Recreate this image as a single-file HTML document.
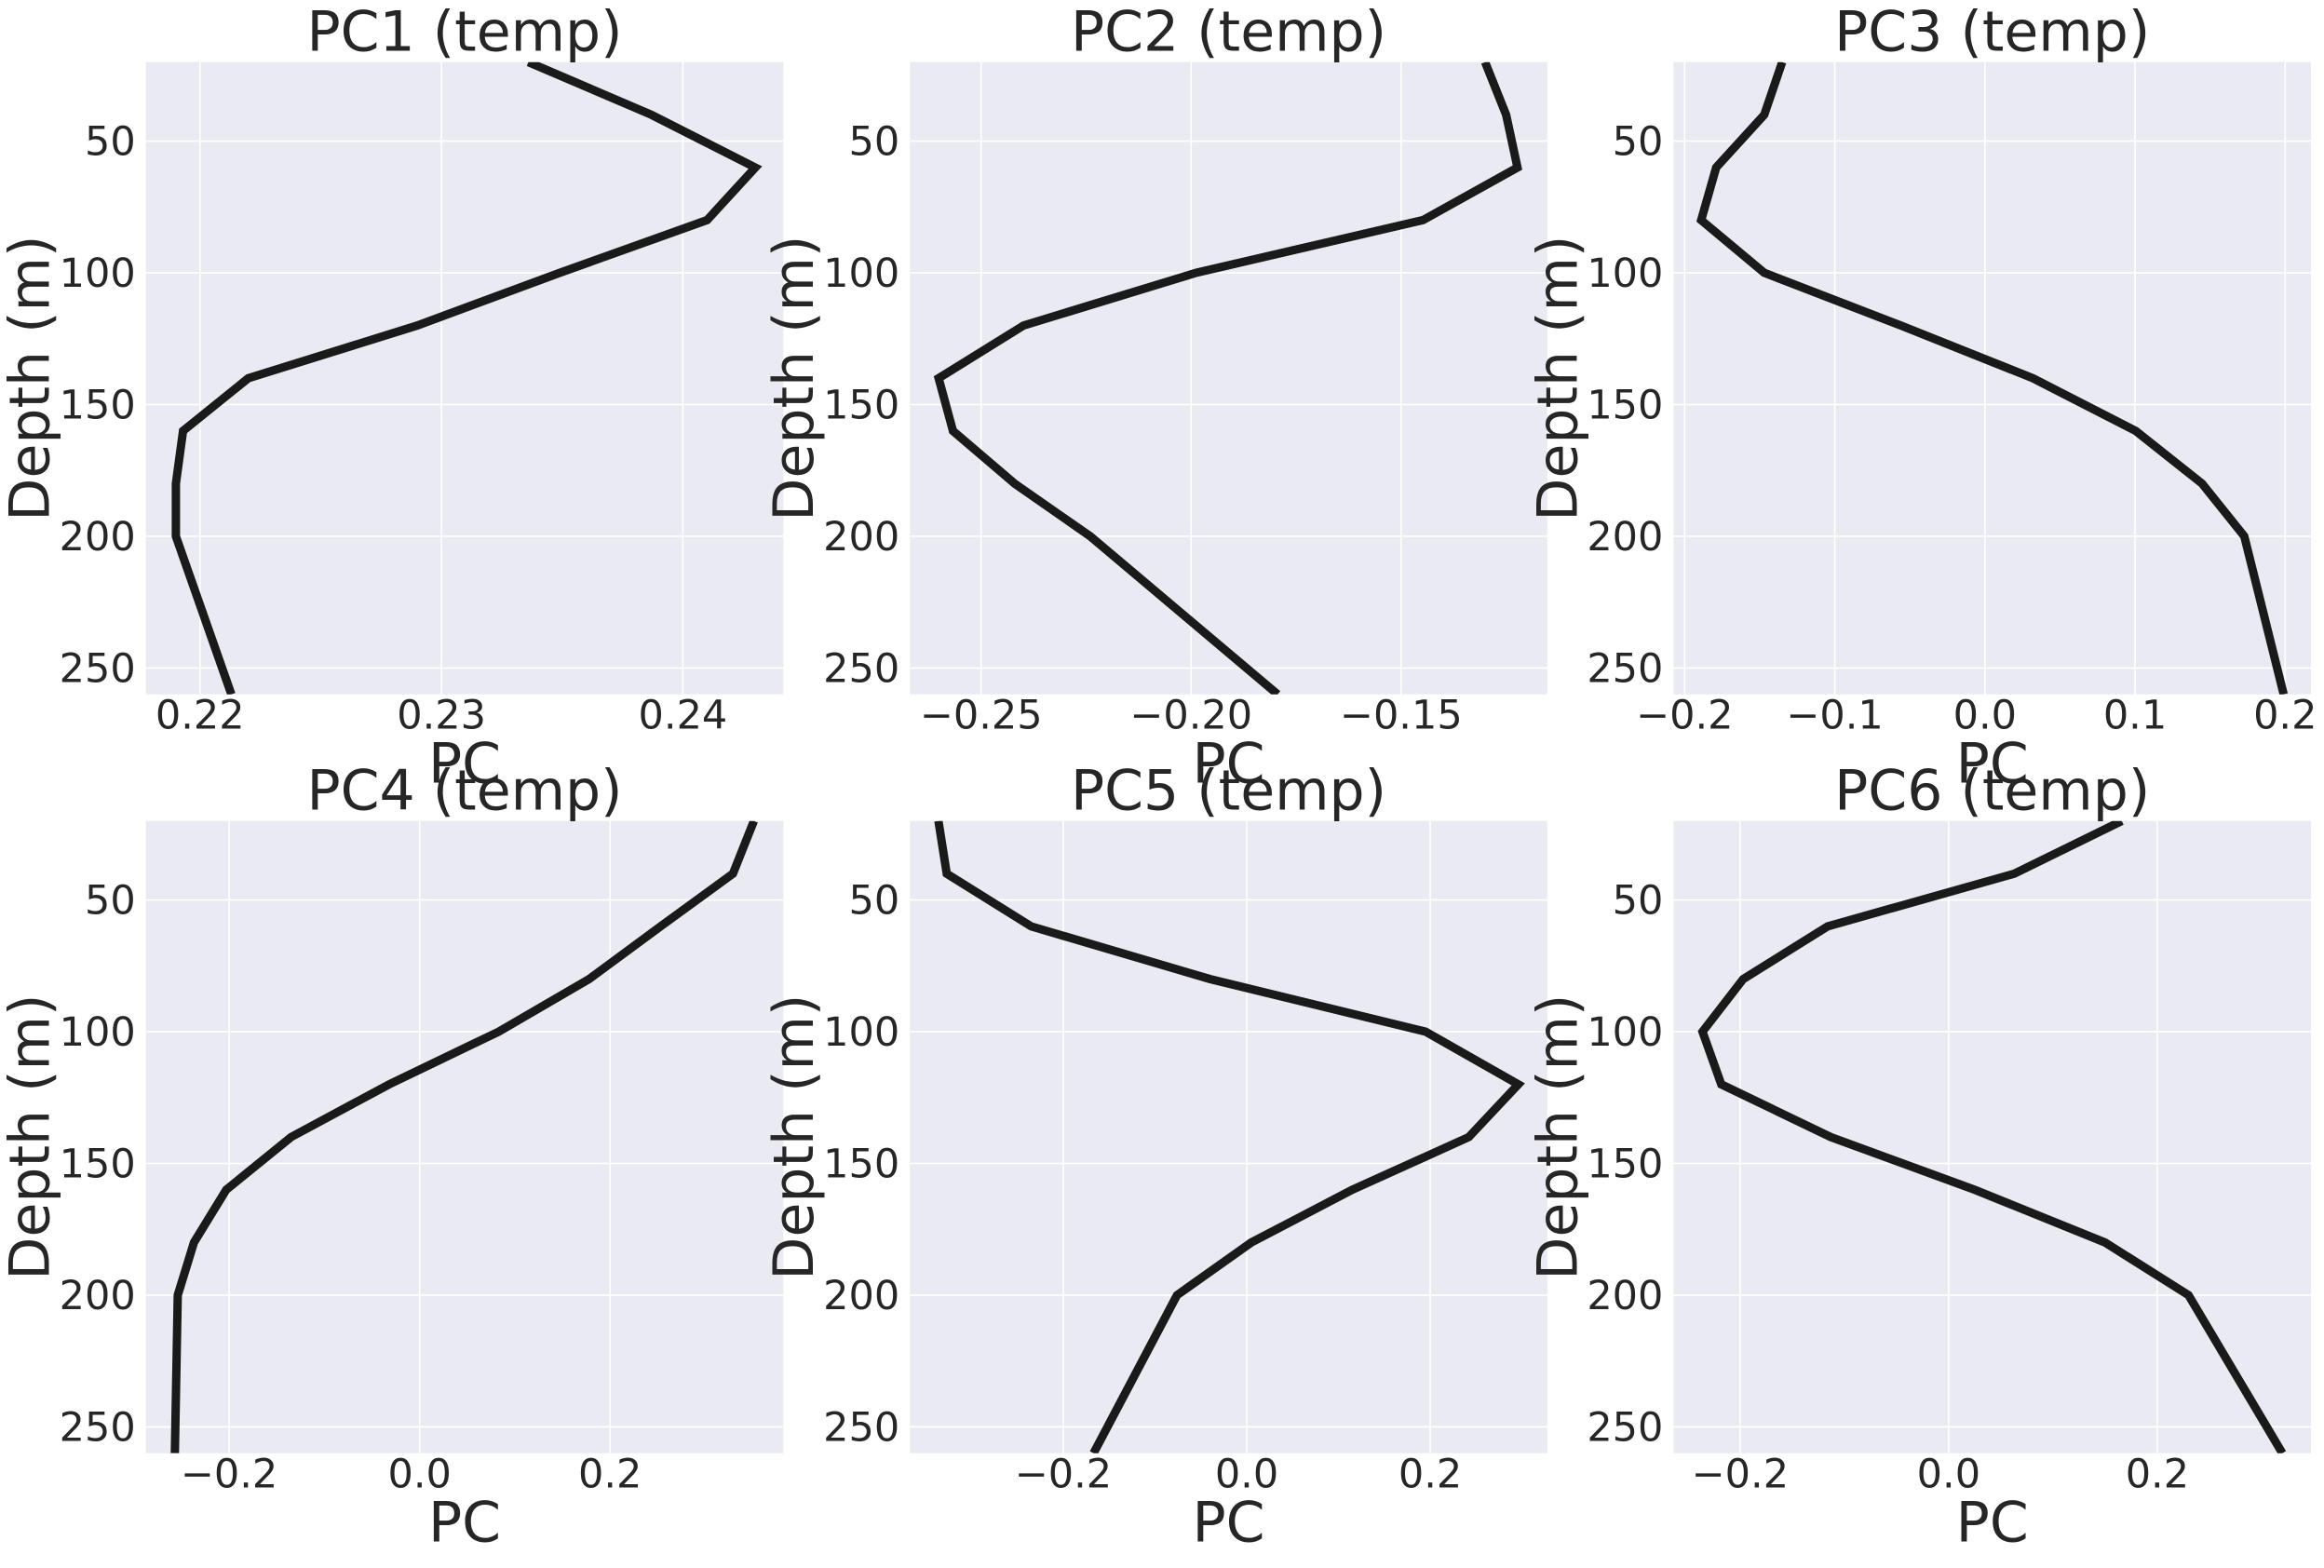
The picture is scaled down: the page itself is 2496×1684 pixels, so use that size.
<!DOCTYPE html>
<html><head><meta charset="utf-8">
<style>
html,body{margin:0;padding:0;background:#fff;}
svg text{font-family:"DejaVu Sans","Liberation Sans",sans-serif;fill:#262626;}
</style></head>
<body>
<svg id="fig" width="2496" height="1679" viewBox="0 0 2496 1679" xmlns="http://www.w3.org/2000/svg"></svg>
<script>
const depths = [20,40,60,80,100,120,140,160,180,200,260];
const pc1 = [0.2336,0.2387,0.2430,0.2410,0.2349,0.2290,0.2220,0.2193,0.2190,0.2190,0.2213];
const pc2 = [-0.130,-0.125,-0.1223,-0.1448,-0.1988,-0.2399,-0.2601,-0.2567,-0.242,-0.224,-0.1794];
const pc3 = [-0.135,-0.147,-0.179,-0.189,-0.147,-0.056,0.032,0.1005,0.1447,0.1728,0.199];
const pc4 = [0.351,0.329,0.253,0.178,0.083,-0.032,-0.135,-0.203,-0.237,-0.254,-0.257];
const pc5 = [-0.336,-0.327,-0.235,-0.040,0.195,0.296,0.242,0.115,0.005,-0.076,-0.167];
const pc6 = [0.166,0.063,-0.116,-0.197,-0.236,-0.218,-0.113,0.025,0.150,0.230,0.320];
const yTicks = [50,100,150,200,250];
const xTicks1 = [0.22,0.23,0.24];
const xTicks2 = [-0.25,-0.20,-0.15];
const xTicks3 = [-0.2,-0.1,0.0,0.1,0.2];
const xTicks4 = [-0.2,0.0,0.2];
const xTicks5 = [-0.2,0.0,0.2];
const xTicks6 = [-0.2,0.0,0.2];
const xTickLabels1 = ["0.22","0.23","0.24"];
const xTickLabels2 = ["\u22120.25","\u22120.20","\u22120.15"];
const xTickLabels3 = ["\u22120.2","\u22120.1","0.0","0.1","0.2"];
const xTickLabels4 = ["\u22120.2","0.0","0.2"];
const xTickLabels5 = ["\u22120.2","0.0","0.2"];
const xTickLabels6 = ["\u22120.2","0.0","0.2"];
const titles = ["PC1 (temp)","PC2 (temp)","PC3 (temp)","PC4 (temp)","PC5 (temp)","PC6 (temp)"];
const xlims = [[0.21776,0.24416],[-0.26696,-0.1152],[-0.2074,0.2172],[-0.2874,0.3819],[-0.3672,0.3276],[-0.2638,0.3474]];
const ylim = [20,260];

const NS="http://www.w3.org/2000/svg";
const svg=document.getElementById('fig');
function mk(tag,attrs,parent){const e=document.createElementNS(NS,tag);for(const k in attrs)e.setAttribute(k,attrs[k]);(parent||svg).appendChild(e);return e;}
const series=[pc1,pc2,pc3,pc4,pc5,pc6];
const xt=[xTicks1,xTicks2,xTicks3,xTicks4,xTicks5,xTicks6];
const xl=[xTickLabels1,xTickLabels2,xTickLabels3,xTickLabels4,xTickLabels5,xTickLabels6];
const colX=[156.7,977.2,1797.4], rowY=[66.7,881.7], W=684.6, H=679;

for(let i=0;i<6;i++){
  const L=colX[i%3], T=rowY[Math.floor(i/3)];
  const g=mk('g',{});
  
  
  const [x0,x1]=xlims[i];
  const sx=v=>L+(v-x0)/(x1-x0)*W;
  const sy=d=>T+(d-ylim[0])/(ylim[1]-ylim[0])*H;
  const bg=mk('rect',{x:L,y:T,width:W,height:H,fill:'#EAEAF2'},g);
  
  
  const clipId='clip'+i;
  const cp=mk('clipPath',{id:clipId},g);
  mk('rect',{x:L,y:T,width:W,height:H},cp);
  yTicks.forEach(t=>{
    const y=sy(t);
    const gl=mk('line',{x1:L,x2:L+W,y1:y,y2:y,stroke:'#fff','stroke-width':1.6},g);
    
    
    const tx=mk('text',{x:L-11,y:y+15,'font-size':43,'text-anchor':'end'},g);
    tx.textContent=t;
    
    
  });
  xt[i].forEach((t,j)=>{
    const x=sx(t);
    const gl=mk('line',{x1:x,x2:x,y1:T,y2:T+H,stroke:'#fff','stroke-width':1.6},g);
    
    
    const tx=mk('text',{x:x,y:T+H+37,'font-size':43,'text-anchor':'middle'},g);
    tx.textContent=xl[i][j];
    
    
  });
  const pts=series[i].map((v,k)=>sx(v).toFixed(1)+','+sy(depths[k]).toFixed(1)).join(' ');
  const pl=mk('polyline',{points:pts,fill:'none',stroke:'#1a1a1a','stroke-width':9,'stroke-linejoin':'miter','clip-path':'url(#'+clipId+')'},g);
  
  
  const ti=mk('text',{x:L+W/2,y:T-12,'font-size':60,'text-anchor':'middle'},g);
  ti.textContent=titles[i];
  
  
  const xa=mk('text',{x:L+W/2,y:T+H+95,'font-size':60,'text-anchor':'middle'},g);
  xa.textContent='PC';
  
  
  const cy=T+H/2, cx=L-104;
  const ya=mk('text',{x:cx,y:cy,'font-size':60,'text-anchor':'middle',transform:'rotate(-90 '+cx+' '+cy+')'},g);
  ya.textContent='Depth (m)';
  
  
}
</script>
</body></html>
